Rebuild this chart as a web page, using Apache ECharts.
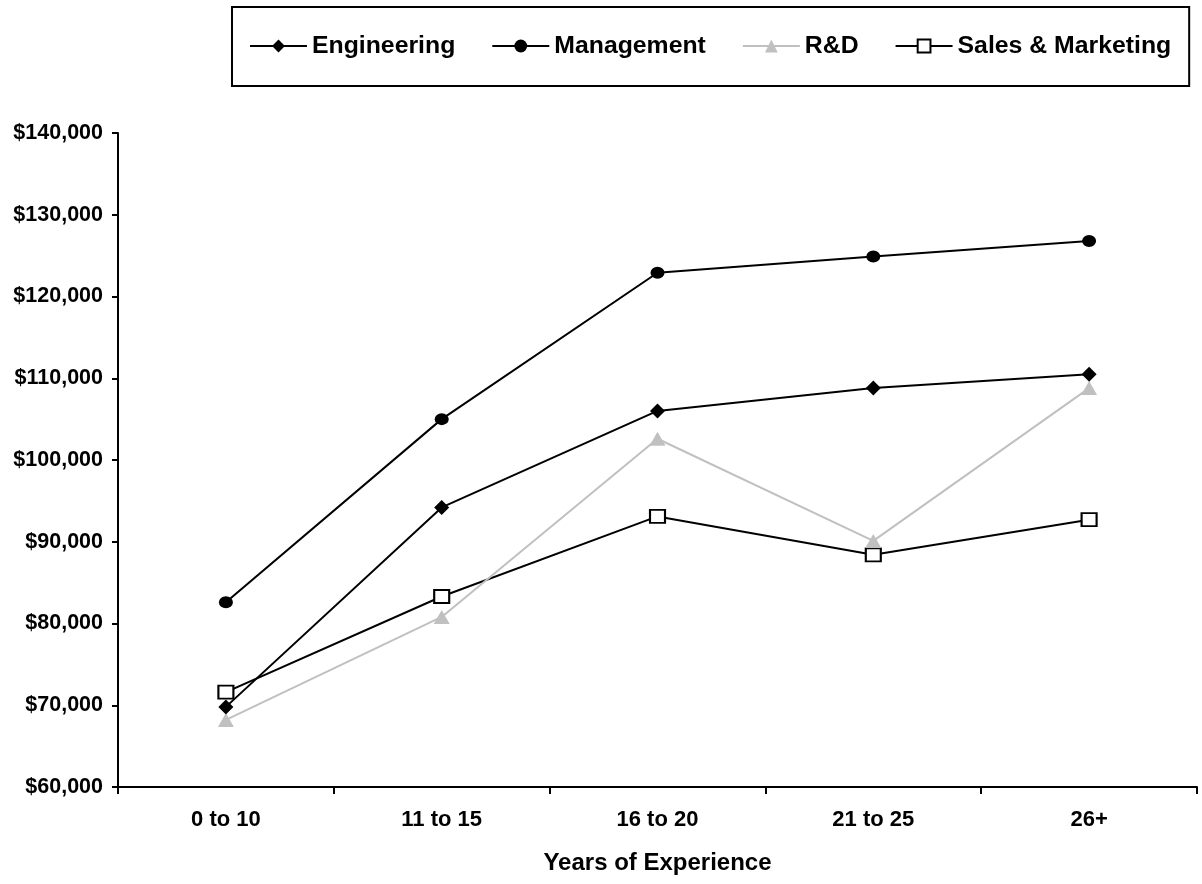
<!DOCTYPE html>
<html>
<head>
<meta charset="utf-8">
<script src="https://cdn.jsdelivr.net/npm/echarts@6/dist/echarts.min.js"></script>
<style>
  html, body { margin: 0; padding: 0; background: #fff; }
  #chart { width: 1202px; height: 884px; }
</style>
</head>
<body>
<div id="chart"></div>
<script>
const categories = ['0 to 10', '11 to 15', '16 to 20', '21 to 25', '26+'];
const engineering = [69800, 94200, 106000, 108800, 110500];
const management = [82600, 105000, 122900, 124900, 126800];
const rnd = [68200, 80800, 102600, 90100, 108800];
const salesMarketing = [71600, 83300, 93100, 88400, 92700];
const yTicks = { min: 60000, max: 140000, interval: 10000 };

const FONT = "'Liberation Sans', Arial, sans-serif";
const chart = echarts.init(document.getElementById('chart'));

function lineSeries(name, data, color, symbol, size, itemStyle) {
  return {
    name: name,
    type: 'line',
    data: data,
    symbol: symbol,
    symbolSize: size,
    showSymbol: true,
    lineStyle: { color: color, width: 2 },
    itemStyle: itemStyle,
    emphasis: { disabled: true },
    animation: false
  };
}

chart.setOption({
  animation: false,
  backgroundColor: '#fff',
  textStyle: { fontFamily: FONT },
  legend: {
    left: 232,
    top: 7,
    padding: [26, 18, 27, 17],
    borderColor: '#000',
    borderWidth: 2,
    itemWidth: 57,
    itemHeight: 16,
    itemGap: 36,
    textStyle: { color: '#000', fontWeight: 'bold', fontSize: 24.8, fontFamily: FONT, lineHeight: 26 },
    data: ['Engineering', 'Management', 'R&D', 'Sales & Marketing']
  },
  grid: { left: 118, right: 5, top: 133, bottom: 97, containLabel: false },
  xAxis: {
    type: 'category',
    data: categories,
    boundaryGap: true,
    name: 'Years of Experience',
    nameLocation: 'middle',
    nameGap: 64,
    nameTextStyle: { color: '#000', fontWeight: 'bold', fontSize: 24, fontFamily: FONT },
    axisLine: { lineStyle: { color: '#000', width: 2 } },
    axisTick: { show: true, alignWithLabel: false, inside: false, length: 7, lineStyle: { color: '#000', width: 2 } },
    axisLabel: { color: '#000', fontWeight: 'bold', fontSize: 22, fontFamily: FONT, margin: 22, interval: 0 },
    splitLine: { show: false }
  },
  yAxis: {
    type: 'value',
    min: yTicks.min,
    max: yTicks.max,
    interval: yTicks.interval,
    axisLine: { show: true, lineStyle: { color: '#000', width: 2 } },
    axisTick: { show: true, inside: false, length: 6, lineStyle: { color: '#000', width: 2 } },
    axisLabel: {
      color: '#000', fontWeight: 'bold', fontSize: 21.5, fontFamily: FONT, margin: 15,
      formatter: v => '$' + v.toLocaleString('en-US')
    },
    splitLine: { show: false }
  },
  series: [
    lineSeries('Sales & Marketing', salesMarketing, '#000', 'rect', [15, 13], { color: '#fff', borderColor: '#000', borderWidth: 2 }),
    lineSeries('R&D', rnd, '#c0c0c0', 'triangle', [16, 14], { color: '#c0c0c0', borderWidth: 0 }),
    lineSeries('Engineering', engineering, '#000', 'diamond', 15, { color: '#000', borderWidth: 0 }),
    lineSeries('Management', management, '#000', 'circle', [14, 12], { color: '#000', borderWidth: 0 })
  ]
});
</script>
</body>
</html>
